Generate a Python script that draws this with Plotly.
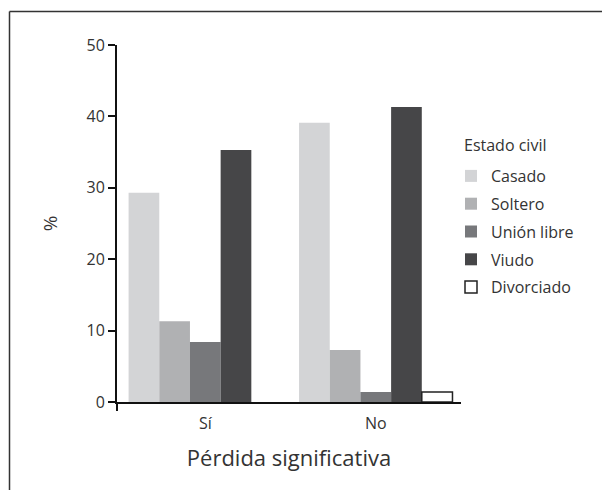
import plotly.graph_objects as go

categories = ["Sí", "No"]
series_names = ["Casado", "Soltero", "Unión libre", "Viudo", "Divorciado"]
casado = [29.3, 39.1]
soltero = [11.3, 7.3]
union_libre = [8.4, 1.4]
viudo = [35.3, 41.3]
divorciado = [None, 1.4]
values = [casado, soltero, union_libre, viudo, divorciado]
colors = ["#d3d4d6", "#b0b1b3", "#77787b", "#464648", "#ffffff"]
y_ticks = [0, 10, 20, 30, 40, 50]

FONT = "Open Sans"
TXT = "#333333"
OFF = 8  # page body margin
W, H = 610 - 2 * OFF, 498 - 2 * OFF
L, T = 117 - OFF, 45 - OFF
R = W - (461 - OFF)
B = H - (402 - OFF)
pw = W - L - R
ph = H - T - B


def px_x(page_x):
    return (page_x - OFF - L) / pw


def px_y(page_y):
    return 1 - (page_y - OFF - T) / ph


fig = go.Figure()
for name, vals, col in zip(series_names, values, colors):
    outline = dict(color="#222222", width=1.5) if col == "#ffffff" else dict(width=0)
    fig.add_trace(go.Bar(
        x=categories, y=vals, name=name, legendgroup=name,
        marker=dict(color=col, line=outline),
    ))

frame = dict(color="#333333", width=1.5)

fig.update_layout(
    width=W, height=H,
    margin=dict(l=L, r=R, t=T, b=B, pad=0, autoexpand=False),
    paper_bgcolor="white", plot_bgcolor="white",
    barmode="group", bargap=0.1, bargroupgap=0,
    font=dict(family=FONT, color=TXT, size=16),
    showlegend=True,
    legend=dict(
        x=px_x(451), xanchor="left",
        y=px_y(159), yanchor="top",
        font=dict(size=16, color=TXT),
        tracegroupgap=4, itemwidth=30,
        bgcolor="rgba(0,0,0,0)",
    ),
    xaxis=dict(
        range=[-0.518, 1.5], showline=True, linecolor="#111111", linewidth=2,
        ticks="", showgrid=False, zeroline=False, automargin=False,
        tickfont=dict(size=16, color=TXT), ticklabelstandoff=6,
        title=dict(text="Pérdida significativa", font=dict(size=22, color=TXT), standoff=17),
    ),
    yaxis=dict(
        range=[0, 50], tickvals=y_ticks, showline=True, linecolor="#111111", linewidth=2,
        ticks="outside", ticklen=7, tickwidth=2, tickcolor="#111111",
        showgrid=False, zeroline=False, automargin=False,
        tickfont=dict(size=16, color=TXT),
        title=dict(text="%", font=dict(size=19, color=TXT), standoff=24),
    ),
    annotations=[
        dict(text="Estado civil", xref="paper", yref="paper",
             x=px_x(462), y=px_y(145), xanchor="left", yanchor="middle",
             showarrow=False, font=dict(size=16, color=TXT)),
    ],
    shapes=[
        dict(type="line", xref="paper", yref="paper", x0=0, x1=0, y0=0, y1=-0.025,
             line=dict(color="#111111", width=2)),
        dict(type="line", xref="paper", yref="paper",
             x0=px_x(9.5), x1=px_x(640), y0=px_y(11.5), y1=px_y(11.5), line=frame),
        dict(type="line", xref="paper", yref="paper",
             x0=px_x(9.5), x1=px_x(9.5), y0=px_y(11.5), y1=px_y(540), line=frame),
    ],
)

fig.write_html("out.html")
